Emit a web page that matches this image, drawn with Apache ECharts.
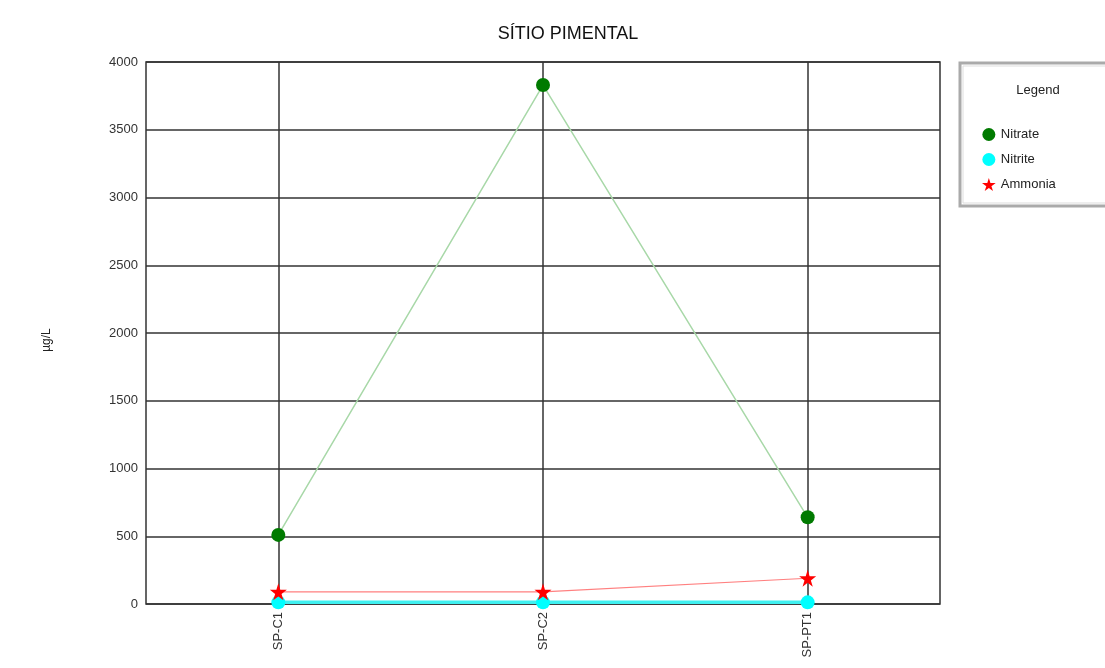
<!DOCTYPE html>
<html>
<head>
<meta charset="utf-8">
<script src="https://cdn.jsdelivr.net/npm/echarts@6/dist/echarts.min.js"></script>
<style>
  html, body {margin: 0; padding: 0; background: #fff;}
  #chart {width: 1105px; height: 668px;}
</style>
</head>
<body>
<div id="chart"></div>
<script>
var sites = ['SP-C1', 'SP-C2', 'SP-PT1'];
var nitrate = [510, 3830, 640];
var nitrite = [12, 12, 12];
var ammonia = [90, 90, 190];

var chart = echarts.init(document.getElementById('chart'));
var font = 'Liberation Sans, Arial, sans-serif';
var star = 'path://M50,0 L61,35 L98,35 L68,57 L79,91 L50,70 L21,91 L32,57 L2,35 L39,35 Z';

var option = {
    backgroundColor: '#fff',
    animation: false,
    title: {
        text: 'SÍTIO PIMENTAL',
        left: 563, top: 20, textAlign: 'center',
        textStyle: {fontFamily: font, fontSize: 18, fontWeight: 'normal', color: '#111'}
    },
    graphic: [
        {type: 'rect', shape: {x: 960, y: 63, width: 160, height: 143},
         style: {fill: '#fff', stroke: '#aaa', lineWidth: 3}},
        {type: 'rect', shape: {x: 963, y: 66, width: 160, height: 137},
         style: {fill: 'none', stroke: '#ddd', lineWidth: 1}},
        {type: 'text', x: 1038, y: 90, style: {text: 'Legend', fontFamily: font, fontSize: 13,
         fill: '#222', align: 'center', verticalAlign: 'middle'}},
        {type: 'text', x: 47, y: 340, rotation: Math.PI / 2,
         style: {text: 'µg/L', fontFamily: font, fontSize: 12, fill: '#222', align: 'center', verticalAlign: 'middle'}}
    ],
    legend: {
        orient: 'vertical',
        left: 977, top: 123,
        itemGap: 12,
        itemWidth: 14, itemHeight: 13,
        textStyle: {fontFamily: font, fontSize: 13, color: '#222'},
        data: [
            {name: 'Nitrate', icon: 'circle'},
            {name: 'Nitrite', icon: 'circle'},
            {name: 'Ammonia', icon: star}
        ]
    },
    grid: {
        left: 146, right: 165, top: 62, bottom: 64,
        show: true, borderColor: '#333', borderWidth: 1.5
    },
    xAxis: {
        type: 'category',
        data: sites,
        boundaryGap: true,
        axisLine: {show: false},
        axisTick: {show: false},
        axisLabel: {rotate: 90, margin: 8, fontFamily: font, fontSize: 13, color: '#333'},
        splitLine: {show: true, alignWithLabel: true, lineStyle: {color: '#333', width: 1.5}}
    },
    yAxis: {
        type: 'value',
        min: 0, max: 4000, interval: 500,
        axisLine: {show: false},
        axisTick: {show: false},
        axisLabel: {margin: 8, fontFamily: font, fontSize: 13, color: '#333',
            formatter: function (v) { return String(v); }},
        splitLine: {show: true, lineStyle: {color: '#333', width: 1.5}}
    },
    series: [
        {
            name: 'Nitrate', type: 'line', data: nitrate,
            symbol: 'circle', symbolSize: 14,
            itemStyle: {color: '#007a00'},
            lineStyle: {color: '#a8d8a8', width: 1.5}
        },
        {
            name: 'Nitrite', type: 'line', data: nitrite,
            symbol: 'circle', symbolSize: 14,
            itemStyle: {color: '#00ffff'},
            lineStyle: {color: '#40f0f0', width: 3.5}
        },
        {
            name: 'Ammonia', type: 'line', data: ammonia,
            symbol: star,
            symbolSize: 17,
            itemStyle: {color: '#ff0000'},
            lineStyle: {color: '#ff8080', width: 1.2}
        }
    ]
};
chart.setOption(option);
</script>
</body>
</html>
